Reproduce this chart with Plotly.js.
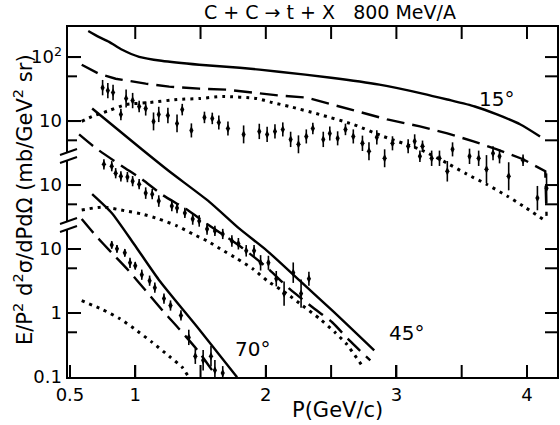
<!DOCTYPE html>
<html><head><meta charset="utf-8">
<script src="https://cdn.plot.ly/plotly-3.0.1.min.js"></script>
<style>body{margin:0;background:#fff}#chart{width:560px;height:425px}</style>
</head><body><div id="chart"></div>
<script>
// ---- axis ticks ----
const xTickVals = [0.5,1,2,3,4];
const xTickText = ["0.5","1","2","3","4"];
const xMinorVals = [1.5,2.5,3.5];
const yTickVals = [0.1,1,10,100,1000,10000];
const yTickText = ["0.1","1","10","10","10","10<sup>2</sup>"];
const yMinorVals = [0.5,5,50,500,5000];

// panel scale factors (each panel shifted on the common log axis)
const scale15 = 100, scale45 = 10, scale70 = 1;

// ---- 15 degrees ----
const solid15_x = [0.64,0.72,0.80,0.90,1.03,1.20,1.49,1.80,2.10,2.50,2.87,3.20,3.39,3.60,3.77,3.95,4.10];
const solid15_y = [256,207,173,130,101,87.5,75.9,68.2,59.1,47.6,37.1,26.9,21.7,16.9,12.7,8.85,5.75];
const dash15_x = [0.59,0.72,0.85,1.08,1.26,1.49,1.70,1.90,2.11,2.31,2.51,2.70,2.93,3.18,3.39,3.59,3.77,3.97,4.10,4.14,4.15];
const dash15_y = [75.9,55,45.9,38.4,34.5,32.1,31.0,27.8,25.0,23.3,18.1,14.1,10.6,8.24,6.41,4.82,3.61,2.53,1.83,1.64,0.33];
const dot15_x = [0.59,0.67,0.80,0.93,1.11,1.32,1.49,1.67,1.93,2.05,2.18,2.41,2.67,2.90,3.18,3.39,3.54,3.69,3.85,3.97,4.12];
const dot15_y = [9.87,11.8,14.6,18.1,19.5,21.7,22.5,24.2,22.5,19.5,16.9,12.7,8.85,5.75,3.61,2.19,1.48,1.03,0.67,0.47,0.295];
const data15_x = [0.75,0.79,0.83,0.89,0.93,0.98,1.03,1.08,1.14,1.18,1.25,1.32,1.36,1.43,1.53,1.59,1.64,1.71,1.83,1.95,2.01,2.07,2.13,2.19,2.25,2.31,2.36,2.44,2.49,2.55,2.61,2.67,2.74,2.79,2.85,2.91,2.97,3.09,3.14,3.18,3.20,3.27,3.33,3.39,3.43,3.56,3.63,3.69,3.74,3.79,3.86,3.97,4.08,4.15];
const data15_y = [33.3,29.9,27.9,12.7,22.5,20.9,16.9,15.7,9.87,12.7,12.2,9.19,15.1,7.14,11.4,11.0,9.51,7.67,6.19,6.89,6.19,6.89,7.40,5.17,4.33,5.75,7.67,5.17,6.41,5.37,7.40,5.75,4.49,3.37,5.56,2.62,4.49,4.03,4.82,2.81,4.03,2.62,2.62,1.64,3.61,2.81,2.62,1.77,3.13,2.81,1.37,2.44,0.625,0.895];
const err15_dex = [0.12,0.12,0.12,0.09,0.14,0.12,0.09,0.11,0.14,0.12,0.12,0.14,0.09,0.11,0.09,0.09,0.11,0.11,0.14,0.12,0.12,0.11,0.11,0.12,0.14,0.11,0.09,0.12,0.11,0.11,0.09,0.11,0.12,0.14,0.11,0.14,0.11,0.11,0.11,0.09,0.09,0.12,0.12,0.16,0.11,0.12,0.12,0.22,0.11,0.11,0.22,0.09,0.19,0.23];

// ---- 45 degrees ----
const solid45_x = [0.67,1.05,1.26,1.57,1.80,2.01,2.26,2.51,2.83];
const solid45_y = [157,36.2,16.4,5.42,2.06,0.938,0.320,0.109,0.0261];
const dash45_x = [0.57,0.70,0.90,1.05,1.21,1.39,1.55,1.82,2.01,2.18,2.36,2.51,2.64,2.80];
const dash45_y = [61.9,37.5,19.7,12.4,6.97,4.22,2.47,1.04,0.511,0.240,0.122,0.0711,0.0373,0.0182];
const dot45_x = [0.59,0.75,0.93,1.05,1.18,1.32,1.44,1.55,1.65,1.78,1.90,2.01,2.16,2.28,2.41,2.53,2.62,2.73];
const dot45_y = [4.07,4.53,3.93,3.53,2.95,2.30,1.72,1.34,1.01,0.705,0.492,0.320,0.201,0.131,0.082,0.0498,0.0324,0.0158];
const data45_x = [0.76,0.82,0.85,0.89,0.94,0.98,1.03,1.08,1.13,1.18,1.28,1.32,1.38,1.44,1.49,1.55,1.61,1.67,1.74,1.79,1.85,1.91,1.96,2.02,2.08,2.14,2.21,2.27,2.33];
const data45_y = [21.1,19.7,15.3,13.7,13.3,11.5,10.3,7.48,7.21,5.62,4.70,4.37,3.66,2.95,2.75,2.06,1.92,1.72,1.34,1.21,0.938,0.938,0.609,0.609,0.344,0.201,0.427,0.201,0.344];
const err45_dex = [0.08,0.08,0.08,0.08,0.08,0.08,0.08,0.09,0.08,0.09,0.08,0.08,0.08,0.09,0.09,0.09,0.08,0.08,0.09,0.09,0.09,0.09,0.12,0.11,0.12,0.19,0.16,0.22,0.11];

// ---- 70 degrees ----
const solid70_x = [0.67,0.82,0.99,1.18,1.49,1.78];
const solid70_y = [72.2,36.6,12.0,3.32,0.554,0.0993];
const dash70_x = [0.59,0.70,0.82,0.95,1.08,1.21,1.34,1.49,1.62];
const dash70_y = [29.5,16.0,8.73,4.58,2.24,1.09,0.554,0.243,0.103];
const dot70_x = [0.59,0.75,0.88,0.99,1.13,1.26,1.36,1.40];
const dot70_y = [1.56,1.13,0.821,0.574,0.348,0.211,0.142,0.107];
const data70_x = [0.82,0.86,0.92,0.96,1.00,1.05,1.11,1.15,1.22,1.27,1.35,1.41,1.46,1.52,1.58,1.61,1.67];
const data70_y = [11.6,10.07,8.73,6.10,5.48,3.97,3.20,2.49,1.68,1.31,0.915,0.416,0.211,0.182,0.211,0.127,0.115];
const err70_dex = [0.06,0.06,0.06,0.08,0.06,0.08,0.08,0.08,0.08,0.08,0.08,0.12,0.12,0.16,0.16,0.16,0.11];

// ---- layout geometry (pixels) ----
const W = 560, H = 425, ML = 68, MR = 3, MT = 27, MB = 48;
const PW = W - ML - MR, PH = H - MT - MB;
const X_RANGE = [0.485, 4.23], Y_LOG_RANGE = [-1, 4.47];
const px = x => (x - ML) / PW;
const py = y => (H - MB - y) / PH;
const dxPx = (X_RANGE[1] - X_RANGE[0]) / PW;                 // one pixel in x units
const dyDex = (Y_LOG_RANGE[1] - Y_LOG_RANGE[0]) / PH;        // one pixel in decades

const FONT = "DejaVu Sans";
const sc = (arr, f) => arr.map(v => v * f);

function curve(x, y, f, kind, shape) {
  const line = {color: "black", width: 2.4, shape: shape || "spline", smoothing: 0.6};
  if (kind === "dash") line.dash = "18px,8px";
  if (kind === "dot") { line.dash = "3px,5px"; line.width = 3; }
  return {x: x, y: sc(y, f), mode: "lines", line: line, hoverinfo: "skip", showlegend: false};
}
function points(x, y, dex, f) {
  const ys = sc(y, f);
  return {
    x: x, y: ys, mode: "markers", showlegend: false,
    marker: {symbol: "diamond-tall", size: 6, color: "black"},
    error_y: {type: "data", symmetric: false,
      array: ys.map((v, i) => v * (Math.pow(10, dex[i]) - 1)),
      arrayminus: ys.map((v, i) => v * (1 - Math.pow(10, -dex[i]))),
      color: "black", thickness: 1.6, width: 0}
  };
}

// tick marks on all four sides, built from the tick arrays through the axes
function tickTrace() {
  const tx = [], ty = [];
  const yLo = Math.pow(10, Y_LOG_RANGE[0]), yHi = Math.pow(10, Y_LOG_RANGE[1]);
  xTickVals.concat(xMinorVals).forEach(v => {
    if (v <= X_RANGE[0] + 0.02) return;
    tx.push(v, v, null, v, v, null);
    ty.push(yLo, yLo * Math.pow(10, 12 * dyDex), null, yHi, yHi / Math.pow(10, 12 * dyDex), null);
  });
  yTickVals.concat(yMinorVals).forEach(v => {
    const lg = Math.log10(v);
    if (lg <= Y_LOG_RANGE[0] + 0.03 || lg >= Y_LOG_RANGE[1] - 0.03) return;
    const len = yTickVals.indexOf(v) >= 0 ? 13 : 9;
    tx.push(X_RANGE[0], X_RANGE[0] + len * dxPx, null, X_RANGE[1] - 12 * dxPx, X_RANGE[1], null);
    ty.push(v, v, null, v, v, null);
  });
  return {x: tx, y: ty, mode: "lines", line: {color: "black", width: 2}, connectgaps: false,
    cliponaxis: false, hoverinfo: "skip", showlegend: false};
}

const traces = [
  curve(solid15_x, solid15_y, scale15, "solid"),
  curve(dash15_x, dash15_y, scale15, "dash", "linear"),
  curve(dot15_x, dot15_y, scale15, "dot"),
  points(data15_x, data15_y, err15_dex, scale15),
  curve(solid45_x, solid45_y, scale45, "solid"),
  curve(dash45_x, dash45_y, scale45, "dash"),
  curve(dot45_x, dot45_y, scale45, "dot"),
  points(data45_x, data45_y, err45_dex, scale45),
  curve(solid70_x, solid70_y, scale70, "solid"),
  curve(dash70_x, dash70_y, scale70, "dash"),
  curve(dot70_x, dot70_y, scale70, "dot"),
  points(data70_x, data70_y, err70_dex, scale70),
  tickTrace()
];

const shapes = [];
const tl = {color: "black", width: 2};
// axis break marks on the left axis
[[152, 160], [221, 229]].forEach(([a, b]) => {
  shapes.push({type: "rect", xref: "paper", yref: "paper", x0: px(63), x1: px(73), y0: py(b), y1: py(a),
    fillcolor: "white", line: {width: 0}, layer: "above"});
  shapes.push({type: "line", xref: "paper", yref: "paper", x0: px(60), y0: py(a + 3), x1: px(77), y1: py(a - 3),
    line: tl, layer: "above"});
  shapes.push({type: "line", xref: "paper", yref: "paper", x0: px(60), y0: py(b + 3), x1: px(77), y1: py(b - 3),
    line: tl, layer: "above"});
});

const ann = (text, x, y, size, extra) => Object.assign({
  text: text, xref: "paper", yref: "paper", x: px(x), y: py(y),
  xanchor: "center", yanchor: "middle", showarrow: false,
  font: {family: FONT, size: size, color: "black"}
}, extra || {});

const axCommon = {ticks: "inside", tickwidth: 2, tickcolor: "black", showgrid: false, zeroline: false,
  showline: true, linewidth: 2.4, linecolor: "black", mirror: true};

const layout = {
  width: W, height: H,
  margin: {l: ML, r: MR, t: MT, b: MB},
  paper_bgcolor: "white", plot_bgcolor: "white",
  font: {family: FONT, color: "black"},
  title: {text: "C + C \u2192 t + X\u00a0\u00a0 800 MeV/A", x: px(330), xref: "paper", xanchor: "center",
    y: 1 - 12 / H, yref: "container", yanchor: "middle", font: {family: FONT, size: 19, color: "black"}},
  xaxis: Object.assign({}, axCommon, {
    range: X_RANGE, tickvals: xTickVals, ticktext: xTickText, ticklen: 12,
    tickfont: {family: FONT, size: 18, color: "black"}
  }),
  yaxis: Object.assign({}, axCommon, {
    type: "log", range: Y_LOG_RANGE, tickvals: yTickVals, ticktext: yTickText, ticklen: 13,
    ticklabelstandoff: 0, tickfont: {family: FONT, size: 18, color: "black"}
  }),
  shapes: shapes,
  annotations: [
    ann("E/P<sup>2</sup> d<sup>2</sup>\u03c3/dPd\u03a9 (mb/GeV<sup>2</sup> sr)", 23, 200, 21, {textangle: -90}),
    ann("P(GeV/c)", 337, 410, 21),
    ann("15\u00b0", 496, 99, 20),
    ann("45\u00b0", 406, 333, 20),
    ann("70\u00b0", 252, 349, 20)
  ]
};

Plotly.newPlot("chart", traces, layout, {staticPlot: true, displayModeBar: false});
</script></body></html>
